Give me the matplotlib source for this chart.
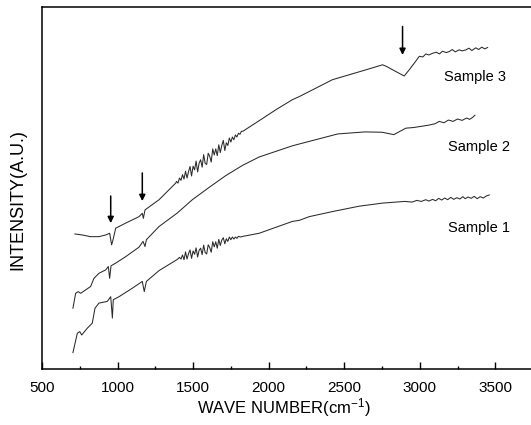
import matplotlib
matplotlib.use("Agg")
import matplotlib.pyplot as plt
from matplotlib.ticker import MultipleLocator

plt.rcParams['font.family'] = ['Liberation Sans', 'DejaVu Sans']
plt.rcParams['mathtext.default'] = 'regular'

# sample 3 (top curve)
wave3 = [718, 767, 822, 877, 922, 948, 961, 970, 988, 1054, 1142, 1164, 1171, 1182, 1275, 1385,
         1390, 1400, 1410, 1420, 1430, 1440, 1450, 1460, 1470, 1480, 1490, 1500, 1510, 1520,
         1530, 1540, 1550, 1560, 1570, 1580, 1590, 1600, 1610, 1620, 1630, 1640, 1650, 1660,
         1670, 1680, 1690, 1700, 1710, 1720, 1730, 1740, 1750, 1760, 1770, 1780, 1790, 1800,
         1810, 1820, 1830, 1937, 2050, 2157, 2202, 2422, 2643, 2754, 2780, 2842, 2897, 2930,
         2964, 2997, 3020, 3040, 3060, 3085, 3110, 3130, 3150, 3175, 3195, 3215, 3235, 3260,
         3280, 3306, 3325, 3345, 3370, 3390, 3410, 3430, 3449]
int3 = [39.8, 39.5, 39.0, 39.0, 39.5, 40.0, 36.6, 38.0, 41.5, 43.0, 44.9, 45.9, 44.4, 46.9, 49.9, 54.8,
        55.3, 54.8, 56.3, 55.6, 57.3, 56.0, 58.3, 56.3, 58.2, 59.7, 56.9, 59.8, 58.7, 61.3,
        58.1, 60.7, 61.7, 59.5, 63.2, 60.6, 60.3, 63.6, 62.7, 61.0, 64.9, 63.1, 64.9, 62.9,
        66.1, 63.8, 65.9, 67.4, 64.4, 66.7, 65.9, 68.1, 66.9, 68.4, 67.6, 69.0, 68.4, 69.5,
        69.2, 70.1, 70.1, 73.2, 76.5, 79.4, 80.3, 85.3, 88.2, 89.7, 89.2, 87.7, 86.4, 88.2,
        90.2, 92.2, 92.0, 92.9, 92.6, 93.1, 93.4, 92.9, 93.7, 93.3, 93.6, 94.2, 93.5, 94.1,
        93.8, 94.1, 94.6, 93.9, 94.7, 94.2, 94.9, 94.4, 94.8]

# sample 2 (middle curve)
wave2 = [705, 723, 740, 756, 789, 822, 844, 877, 922, 939, 948, 957, 988, 1054, 1142, 1169,
         1182, 1191, 1275, 1396, 1495, 1605, 1716, 1826, 1937, 2157, 2268, 2457, 2637, 2750,
         2828, 2908, 2960, 3018, 3060, 3100, 3129, 3160, 3190, 3220, 3250, 3280, 3310, 3330,
         3350, 3365]
int2 = [17.9, 22.3, 22.8, 22.3, 23.3, 24.3, 26.7, 28.2, 29.2, 30.2, 26.7, 30.4, 31.2, 33.1, 35.9, 37.6,
        36.1, 38.1, 42.0, 46.0, 49.9, 53.5, 57.0, 60.0, 62.5, 65.8, 67.1, 69.3, 69.9, 69.8,
        69.1, 71.0, 71.2, 71.6, 71.9, 72.3, 73.0, 72.6, 73.4, 73.0, 73.7, 73.3, 74.0, 73.6,
        74.2, 74.8]

# sample 1 (bottom curve)
wave1 = [705, 734, 750, 763, 800, 833, 851, 877, 932, 955, 966, 972, 1010, 1098, 1164, 1177,
         1191, 1275, 1396, 1410, 1420, 1430, 1440, 1450, 1460, 1470, 1480, 1490, 1500, 1510,
         1520, 1530, 1540, 1550, 1560, 1570, 1580, 1590, 1600, 1610, 1620, 1630, 1640, 1650,
         1660, 1670, 1680, 1690, 1700, 1710, 1720, 1730, 1740, 1750, 1760, 1770, 1780, 1790,
         1800, 1815, 1830, 1937, 2050, 2157, 2202, 2268, 2422, 2600, 2754, 2900, 2950, 2980,
         3010, 3040, 3060, 3085, 3105, 3125, 3145, 3165, 3185, 3205, 3225, 3245, 3265, 3285,
         3300, 3320, 3340, 3360, 3380, 3400, 3420, 3440, 3460]
int1 = [4.8, 10.5, 11.0, 10.0, 12.0, 13.5, 17.9, 19.4, 19.9, 21.3, 15.0, 20.4, 21.3, 23.8, 25.8, 22.8,
        25.8, 29.0, 32.3, 32.9, 32.4, 33.6, 32.2, 34.5, 32.4, 34.0, 35.1, 32.6, 34.8, 33.8,
        35.7, 33.0, 35.0, 35.6, 33.7, 36.5, 34.3, 33.9, 36.6, 35.8, 34.4, 37.5, 36.0, 37.5,
        35.6, 38.2, 36.4, 38.0, 38.7, 36.9, 38.4, 37.6, 38.9, 38.1, 38.9, 38.3, 38.9, 38.5,
        39.1, 38.9, 39.1, 40.0, 41.8, 43.5, 43.8, 44.9, 46.4, 48.0, 48.9, 49.4, 49.2, 49.7,
        49.4, 49.9, 49.5, 50.0, 49.6, 50.3, 49.8, 50.4, 49.9, 50.6, 50.0, 50.5, 50.1, 50.8,
        50.2, 50.7, 50.3, 50.9, 50.2, 50.8, 50.4, 51.0, 51.3]

labels = ["Sample 3", "Sample 2", "Sample 1"]
label_x = [3162, 3189, 3189]
label_y = [86.1, 65.5, 41.6]
arrow_x = [955, 1164, 2886]
arrow_top = [51.0, 57.8, 101.0]
arrow_tip = [43.0, 49.5, 92.6]

fig = plt.figure(figsize=(5.31, 4.25), dpi=100)
ax = fig.add_axes([0.079, 0.132, 0.925, 0.852])

for w, v in [(wave3, int3), (wave2, int2), (wave1, int1)]:
    ax.plot(w, v, color='#2a2a2a', linewidth=0.75)

for lab, lx, ly in zip(labels, label_x, label_y):
    ax.text(lx, ly, lab, fontsize=10.5, color='black', va='center', ha='left')

for xa, top, tip in zip(arrow_x, arrow_top, arrow_tip):
    ax.annotate('', xy=(xa, tip), xytext=(xa, top),
                arrowprops=dict(arrowstyle='-|>', color='black', lw=1.1,
                                mutation_scale=9, shrinkA=0, shrinkB=0))

ax.set_xlim(500, 3750)
ax.set_ylim(0, 106.8)
ax.xaxis.set_major_locator(MultipleLocator(500))
ax.xaxis.set_minor_locator(MultipleLocator(250))
ax.tick_params(axis='x', which='major', direction='in', length=5, width=1, labelsize=11, pad=9)
ax.tick_params(axis='x', which='minor', direction='in', length=2.2, width=1)
ax.set_yticks([])
for s in ax.spines.values():
    s.set_linewidth(1.1)

fig.text(284 / 531, 1 - 408 / 425, 'WAVE NUMBER(cm$^{-1}$)', fontsize=12,
         ha='center', va='center')
fig.text(17.7 / 531, 1 - 200 / 425, 'INTENSITY(A.U.)', fontsize=13,
         rotation=90, ha='center', va='center')

plt.savefig('out.png', dpi=100)
